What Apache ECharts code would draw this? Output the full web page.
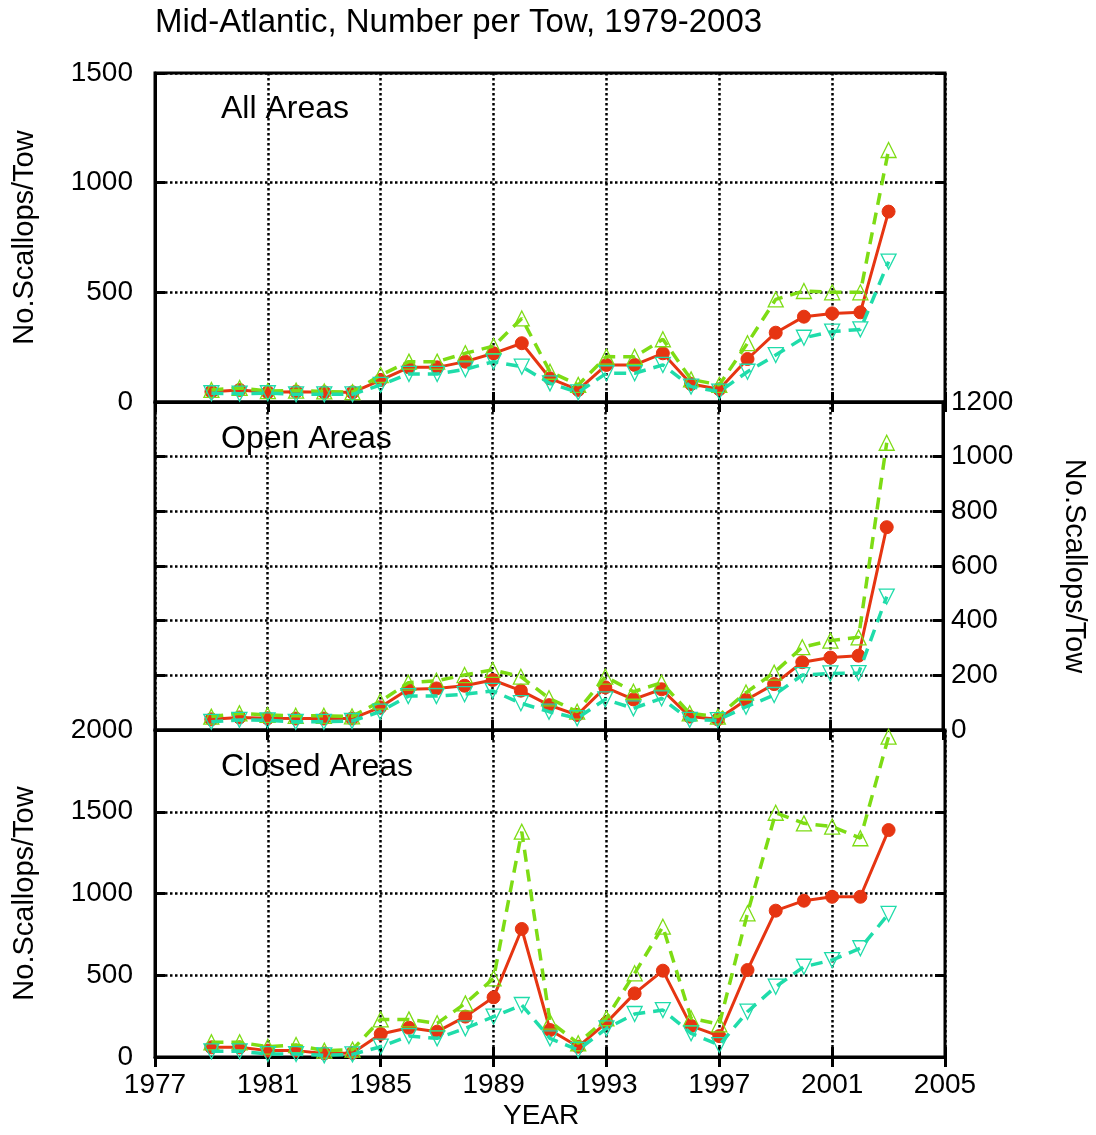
<!DOCTYPE html>
<html>
<head>
<meta charset="utf-8">
<script src="https://cdn.jsdelivr.net/npm/echarts@6/dist/echarts.min.js"></script>
<style>
html,body{margin:0;padding:0;background:#fff;}
#chart{width:1096px;height:1135px;}
</style>
</head>
<body>
<div id="chart"></div>
<script>
const years = [1979,1980,1981,1982,1983,1984,1985,1986,1987,1988,1989,1990,1991,1992,1993,1994,1995,1996,1997,1998,1999,2000,2001,2002,2003];

const allMean  = [47,55,44,47,44,44,100,158,158,184,222,268,108,55,169,169,222,82,58,196,316,389,404,409,868];
const allUpper = [55,64,50,52,48,45,123,184,184,222,255,381,138,78,207,206,286,103,78,268,468,506,500,500,1149];
const allLower = [40,38,40,35,35,35,78,128,128,149,184,161,85,44,131,131,169,70,47,138,214,293,321,331,640];

const openMean  = [39,46,43,42,42,42,83,149,152,162,183,144,91,55,156,112,149,49,39,110,168,248,265,272,742];
const openUpper = [49,61,55,52,52,50,104,173,180,201,220,195,116,67,195,140,173,61,49,137,210,303,327,339,1051];
const openLower = [30,37,35,30,30,33,67,124,124,131,143,98,67,43,112,79,116,37,36,85,128,201,207,208,488];

const closedMean  = [59,59,39,39,22,25,141,179,155,247,365,783,165,63,210,389,528,190,128,532,895,956,980,980,1388];
const closedUpper = [90,90,63,73,39,45,230,230,206,328,481,1378,216,84,237,512,797,237,200,879,1494,1429,1409,1338,1959];
const closedLower = [35,35,18,18,10,16,63,128,114,175,247,318,114,43,175,263,287,145,73,277,430,552,593,665,875];

const panelLabels = ['All Areas','Open Areas','Closed Areas'];
const yTitle = 'No.Scallops/Tow';
const chartTitle = 'Mid-Atlantic, Number per Tow, 1979-2003';
const xTitle = 'YEAR';

const FONT = 'Liberation Sans, Arial, sans-serif';
const RED = '#e63512', GREEN = '#7ddc14', TEAL = '#1fdcaa';

const chart = echarts.init(document.getElementById('chart'), null, {renderer:'canvas'});

const grids = [
  {left:155, width:790, top:73, height:329},
  {left:155, width:790, top:402, height:328},
  {left:155, width:790, top:730, height:327}
].map(g => Object.assign(g, {show:true, borderColor:'#000', borderWidth:3, backgroundColor:'transparent'}));

const dotted = {show:true, lineStyle:{color:'#000', width:2.5, type:[2.5,2.5]}};
const tickIn = {show:true, inside:true, length:10, lineStyle:{color:'#000', width:3}};
const lbl = {color:'#000', fontSize:28, fontFamily:FONT, formatter: v => String(v)};

const xAxes = [], yAxes = [];
for (let i=0;i<3;i++){
  xAxes.push({type:'value', gridIndex:i, min:1977, max:2005, interval:4, position:'bottom',
    axisLine:{show:true, lineStyle:{color:'#000', width:3}}, axisTick:tickIn,
    splitLine:dotted,
    axisLabel: i===2 ? Object.assign({show:true, margin:14}, lbl) : {show:false}
  });
  xAxes.push({type:'value', gridIndex:i, min:1977, max:2005, interval:4, position:'top',
    axisLine:{show:false}, axisTick:tickIn, splitLine:{show:false}, axisLabel:{show:false}});
}
const yCfg = [
  {max:1500, interval:500, side:'left'},
  {max:1200, interval:200, side:'right'},
  {max:2000, interval:500, side:'left'}
];
yCfg.forEach((c,i)=>{
  yAxes.push({type:'value', gridIndex:i, min:0, max:c.max, interval:c.interval, position:c.side,
    axisLine:{show:true, lineStyle:{color:'#000', width:3}}, axisTick:tickIn,
    splitLine:dotted,
    axisLabel:Object.assign({show:true, margin: c.side==='left'?22:8}, lbl),
    name:yTitle, nameLocation:'middle', nameGap:116,
    nameRotate: c.side==='left'?90:-90,
    nameTextStyle:{color:'#000', fontSize:29, fontFamily:FONT}
  });
  yAxes.push({type:'value', gridIndex:i, min:0, max:c.max, interval:c.interval,
    position: c.side==='left'?'right':'left',
    axisLine:{show:false}, axisTick:tickIn, splitLine:{show:false}, axisLabel:{show:false}});
});

function pairs(arr){ return years.map((y,k)=>[y, arr[k]]); }

const panels = [[allMean,allUpper,allLower],[openMean,openUpper,openLower],[closedMean,closedUpper,closedLower]];
const series = [];
panels.forEach((p,i)=>{
  series.push({type:'line', xAxisIndex:2*i, yAxisIndex:2*i, data:pairs(p[0]),
    symbol:'circle', symbolSize:13, showAllSymbol:true, z:3,
    lineStyle:{color:RED, width:3}, itemStyle:{color:RED, borderColor:RED}});
  series.push({type:'line', xAxisIndex:2*i, yAxisIndex:2*i, data:pairs(p[1]),
    symbol:'triangle', symbolSize:15, showAllSymbol:true, z:4,
    lineStyle:{color:GREEN, width:3.5, type:[12,8]},
    itemStyle:{color:'rgba(255,255,255,0)', borderColor:GREEN, borderWidth:1.3}});
  series.push({type:'line', xAxisIndex:2*i, yAxisIndex:2*i, data:pairs(p[2]),
    symbol:'triangle', symbolRotate:180, symbolSize:15, showAllSymbol:true, z:5,
    lineStyle:{color:TEAL, width:3.5, type:[12,8]},
    itemStyle:{color:'rgba(255,255,255,0)', borderColor:TEAL, borderWidth:1.3}});
});

const titles = [
  {text:chartTitle, left:150, top:1, textStyle:{color:'#000', fontSize:33, fontWeight:'normal', fontFamily:FONT}},
  {text:xTitle, left:498, top:1097, textStyle:{color:'#000', fontSize:28, fontWeight:'normal', fontFamily:FONT}}
];
const panelTop = [88, 418, 746];
panelLabels.forEach((t,i)=>{
  titles.push({text:t, left:216, top:panelTop[i], textStyle:{color:'#000', fontSize:32, fontWeight:'normal', fontFamily:FONT}});
});

chart.setOption({
  animation:false,
  backgroundColor:'#fff',
  title:titles,
  grid:grids,
  xAxis:xAxes,
  yAxis:yAxes,
  series:series
});
</script>
</body>
</html>
